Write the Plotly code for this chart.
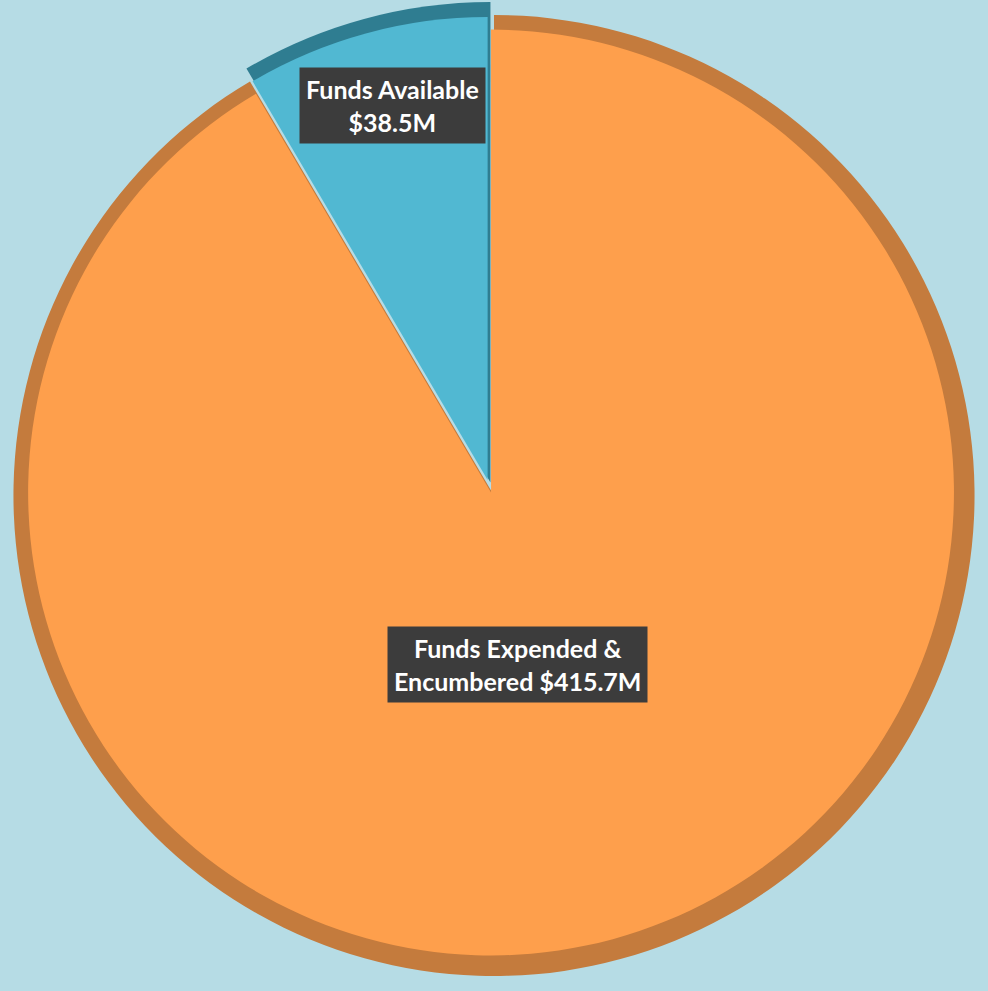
import plotly.graph_objects as go

labels = ["Funds Available", "Funds Expended & Encumbered"]
values = [38.5, 415.7]
label_lines = [["Funds Available", "$38.5M"], ["Funds Expended &", "Encumbered $415.7M"]]
face_colors = ["#51b8d2", "#fe9f4c"]
rim_colors = ["#2f7d91", "#c47b3d"]
pulls = [0.028, 0]

# first slice ends at 12 o'clock
start_rotation = -360.0 * values[0] / sum(values)

fig = go.Figure()

# rim / shadow layer (same data, darker colours)
fig.add_trace(go.Pie(
    labels=labels, values=values, sort=False, direction="clockwise", rotation=start_rotation,
    pull=pulls, marker=dict(colors=rim_colors, line=dict(width=0)),
    textinfo="none", hoverinfo="skip", showlegend=False,
    domain=dict(x=[0.0, 1.0], y=[0.0, 1.0]),
))

# top face
fig.add_trace(go.Pie(
    labels=labels, values=values, sort=False, direction="clockwise", rotation=start_rotation,
    pull=pulls, marker=dict(colors=face_colors, line=dict(width=0)),
    textinfo="none", showlegend=False,
    domain=dict(x=[0.0153, 0.9787], y=[0.0228, 0.9832]),
))

positions = [(0.397, 0.8935), (0.524, 0.329)]
for lines, (px, py) in zip(label_lines, positions):
    fig.add_annotation(
        x=px, y=py, xref="paper", yref="paper", xanchor="center", yanchor="middle",
        showarrow=False,
        text="<b>" + "<br>".join(lines) + "</b>",
        font=dict(family="Lato", size=25, color="white"),
        bgcolor="#3c3c3c", borderpad=6, align="center",
    )

fig.update_layout(
    width=988, height=991,
    margin=dict(l=0, r=0, t=0, b=0),
    paper_bgcolor="#b6dce5", plot_bgcolor="#b6dce5",
)

fig.write_html(
    "out.html",
    config={"displayModeBar": False},
    post_script="document.body.style.margin='0';document.body.style.background='#b6dce5';document.body.style.overflow='hidden';",
)
